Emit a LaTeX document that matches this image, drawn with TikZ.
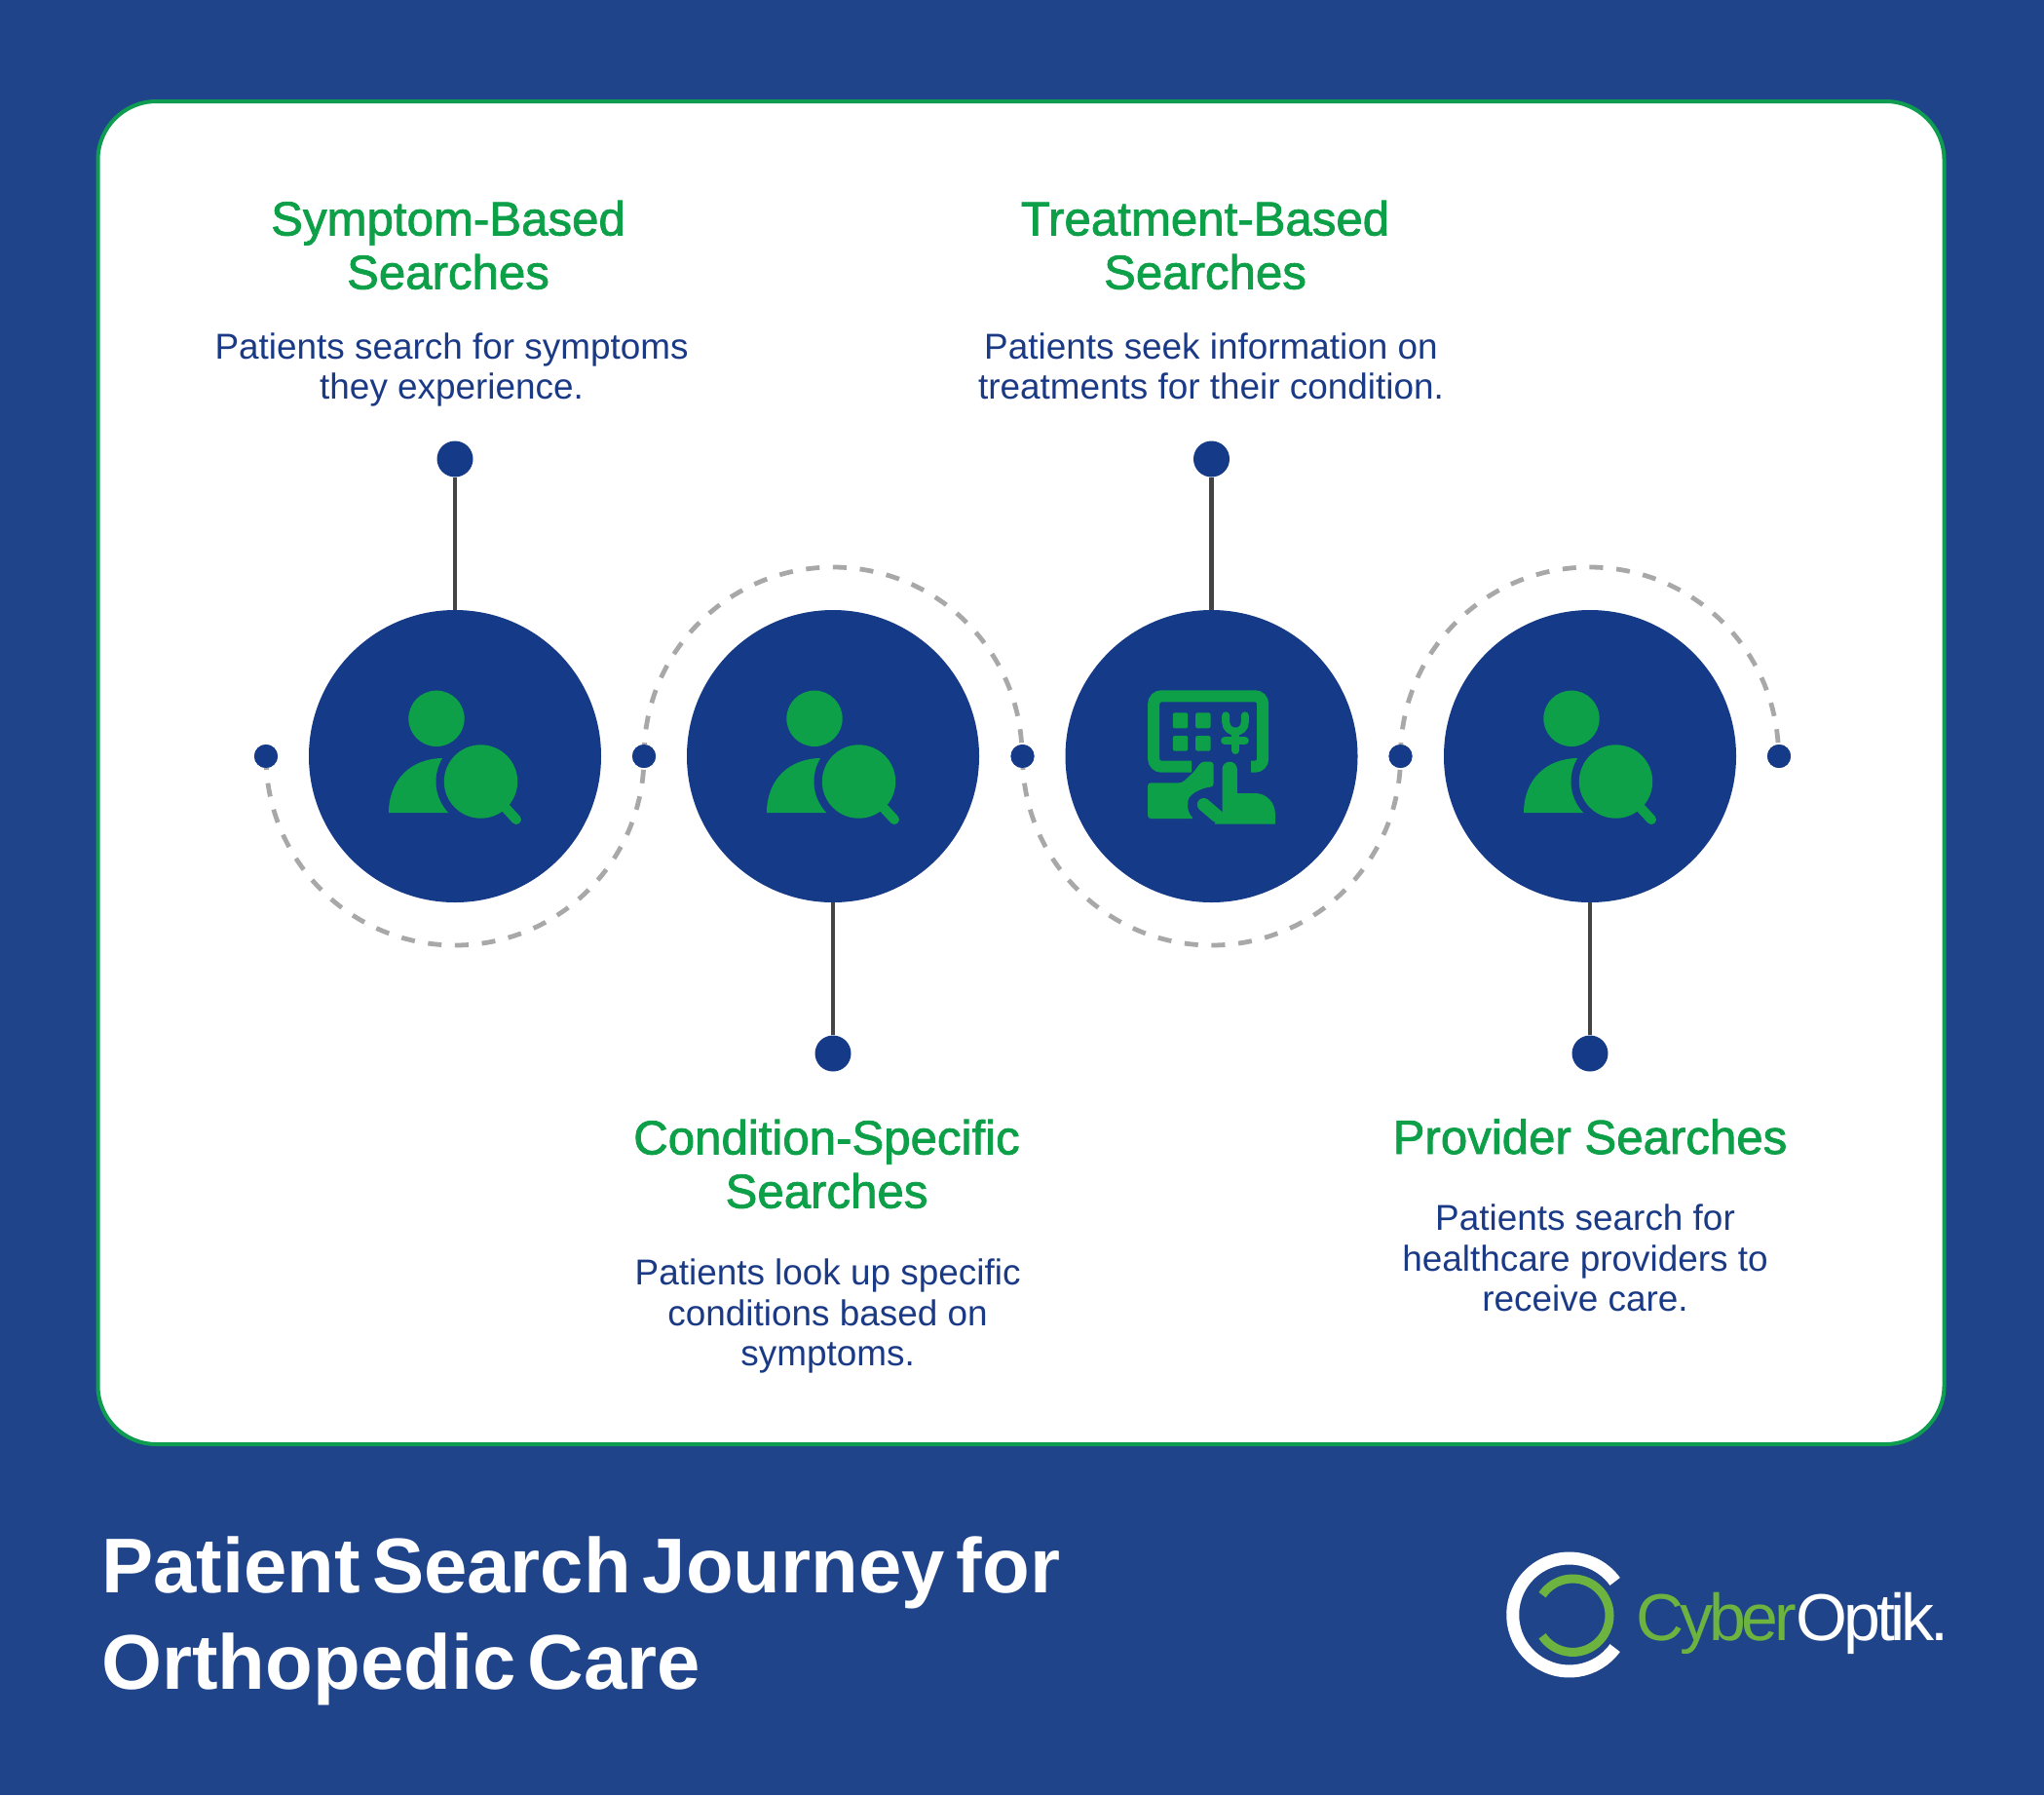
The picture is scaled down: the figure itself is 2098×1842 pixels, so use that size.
\documentclass[tikz,border=0pt]{standalone}
\usepackage{fontspec}
\setmainfont{Liberation Sans}
\newfontfamily\headfont[FakeBold=1.6]{Liberation Sans}
\newfontfamily\titlefont[WordSpace=0.54]{Liberation Sans}
\newfontfamily\logofont[LetterSpace=-6.2]{Liberation Sans}
\definecolor{pagebg}{HTML}{1F448A}
\definecolor{disc}{HTML}{153A87}
\definecolor{leaf}{HTML}{0DA048}
\definecolor{edge}{HTML}{0E9C50}
\definecolor{ink}{HTML}{1B3A86}
\definecolor{stem}{HTML}{444444}
\definecolor{dashgrey}{HTML}{A8A8A8}
\definecolor{logogreen}{HTML}{6CB33F}
\tikzset{
  x=.5pt,y=-.5pt,
  cardbox/.style={draw=edge,fill=white,line width=2pt,rounded corners=30pt},
  discnode/.style={circle,fill=disc,inner sep=0pt,minimum size=150pt},
  bigdot/.style={circle,fill=disc,inner sep=0pt,minimum size=18.5pt},
  smalldot/.style={circle,fill=disc,inner sep=0pt,minimum size=12pt},
  stemline/.style={draw=stem,line width=2.2pt},
  dashedarc/.style={draw=dashgrey,line width=2.4pt,dash pattern=on 7pt off 6.85pt},
  headtext/.style={align=center,inner sep=0pt,anchor=base,text=leaf,font=\headfont\fontsize{24.6pt}{27.5pt}\selectfont},
  bodytext/.style={align=center,inner sep=0pt,anchor=base,text=ink,font=\fontsize{18.45pt}{20.7pt}\selectfont},
  titletext/.style={align=left,inner sep=0pt,anchor=base west,text=white,font=\titlefont\bfseries\fontsize{39.85pt}{49.5pt}\selectfont},
  pics/person/.style={code={
    \fill[leaf] (-19,-38.7) circle[radius=28.7];
    \fill[leaf] (-68,58) .. controls (-68,24) and (-45,2) .. (-12,2) -- (4,2) -- (4,58) -- cycle;
    \fill[disc] (26.5,26) circle[radius=46];
    \fill[leaf] (26.5,26) circle[radius=37.7];
    \draw[leaf,line width=5pt,line cap=round] (51,52) -- (63,65);
  }},
  pics/treat/.style={code={
    \begin{scope}[x=.16667pt,y=-.16667pt,shift={(-461,-468)}]
    \draw[leaf,line width=6pt,rounded corners=4pt] (583,500) -- (619,500) -- (619,283) -- (283,283) -- (283,500) -- (400,500);
    \fill[leaf,rounded corners=1.5pt] (265,550) -- (370,550) -- (405,518) -- (430,485) -- (467,485) -- (467,562) .. controls (430,565) and (390,585) .. (388,615) .. controls (388,635) and (395,650) .. (408,660) -- (265,660) -- cycle;
    \draw[leaf,line width=6.7pt,line cap=round] (437,617) -- (478,652);
    \fill[leaf] (494,508) arc[start angle=180,end angle=360,radius=23] -- (540,582) -- (595,582) .. controls (630,582) and (657,610) .. (657,645) -- (657,677) -- (470,677) -- (494,640) -- cycle;
    \fill[leaf,rounded corners=1pt] (342,334) rectangle (388,382);
    \fill[leaf,rounded corners=1pt] (412,334) rectangle (458,382);
    \fill[leaf,rounded corners=1pt] (342,405) rectangle (388,452);
    \fill[leaf,rounded corners=1pt] (412,405) rectangle (458,452);
    \draw[leaf,line width=4pt,line cap=round] (505,343) -- (505,362) .. controls (505,382) and (520,392) .. (535,392) .. controls (550,392) and (564,382) .. (564,362) -- (564,343);
    \draw[leaf,line width=4pt,line cap=round] (535,392) -- (535,450);
    \draw[leaf,line width=4pt,line cap=round] (502,420) -- (564,420);
    \end{scope}
  }},
}
\begin{document}
\begin{tikzpicture}
\fill[pagebg] (0,0) rectangle (2098,1842);
\useasboundingbox (0,0) rectangle (2098,1842);
\draw[cardbox] (100.5,104) rectangle (1995.5,1482);
% dots on the track
\node[smalldot] (t0) at (273,776) {};
\node[smalldot] (t1) at (661,776) {};
\node[smalldot] (t2) at (1049.5,776) {};
\node[smalldot] (t3) at (1437.5,776) {};
\node[smalldot] (t4) at (1826,776) {};
% arcs
\draw[dashedarc] (t0.center) arc[start angle=180,end angle=0,radius=194];
\draw[dashedarc] (t1.center) arc[start angle=180,end angle=360,radius=194];
\draw[dashedarc] (t2.center) arc[start angle=180,end angle=0,radius=194];
\draw[dashedarc] (t3.center) arc[start angle=180,end angle=360,radius=194];
\node[smalldot] at (t0) {};
\node[smalldot] at (t1) {};
\node[smalldot] at (t2) {};
\node[smalldot] at (t3) {};
\node[smalldot] at (t4) {};
% discs
\node[discnode] (c1) at (467,776) {};
\node[discnode] (c2) at (855,776) {};
\node[discnode] (c3) at (1243.5,776) {};
\node[discnode] (c4) at (1632,776) {};
\node[bigdot] (b1) at (467,471) {};
\node[bigdot] (b2) at (855,1081) {};
\node[bigdot] (b3) at (1243.5,471) {};
\node[bigdot] (b4) at (1632,1081) {};
\draw[stemline] (b1) -- (c1);
\draw[stemline] (b2) -- (c2);
\draw[stemline] (b3) -- (c3);
\draw[stemline] (b4) -- (c4);
\pic at (c1) {person};
\pic at (c2) {person};
\pic at (c3) {treat};
\pic at (c4) {person};
% texts
\node[headtext] (h1) at (460,296.5) {Symptom-Based\\Searches};
\node[bodytext] (d1) at (463.6,409.5) {Patients search for symptoms\\they experience.};
\node[headtext] (h2) at (848.5,1239.5) {Condition-Specific\\Searches};
\node[bodytext] (d2) at (849.6,1401.5) {Patients look up specific\\conditions based on\\symptoms.};
\node[headtext] (h3) at (1237,296.5) {Treatment-Based\\Searches};
\node[bodytext] (d3) at (1243,409.5) {Patients seek information on\\treatments for their condition.};
\node[headtext] (h4) at (1632,1184) {Provider Searches};
\node[bodytext] (d4) at (1627,1345.5) {Patients search for\\healthcare providers to\\receive care.};
\node[titletext] (title) at (104,1733) {Patient Search Journey for\\Orthopedic Care};
% logo
\draw[white,line width=6.5pt] (1610.7,1657) ++(36:58) arc[start angle=36,end angle=324,radius=58];
\draw[logogreen,line width=4.5pt] (1614.3,1657.7) ++(146:37.7) arc[start angle=146,end angle=-146,radius=37.7];
\node[inner sep=0pt,anchor=base west,font=\logofont\fontsize{34pt}{34pt}\selectfont] (logo) at (1679,1683) {\textcolor{logogreen}{Cyber}\textcolor{white}{Optik.}};
\end{tikzpicture}
\end{document}
